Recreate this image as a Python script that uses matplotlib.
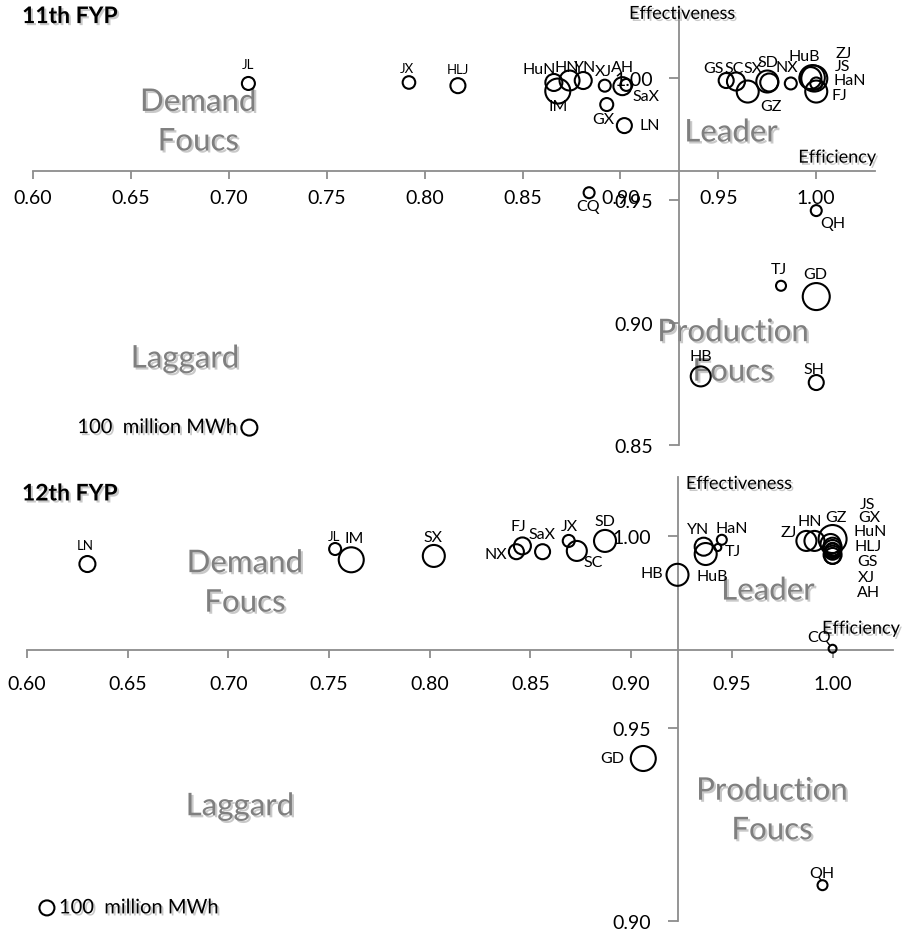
import numpy as np
import matplotlib
matplotlib.use("Agg")
import matplotlib.pyplot as plt
import matplotlib.patheffects as pe

plt.rcParams['font.family'] = ['Lato', 'DejaVu Sans']

# ---- 11th FYP: efficiency (x), effectiveness (y), consumption (100 million MWh) ----
prov_11 = ['JL', 'JX', 'HLJ', 'HuN', 'IM', 'HN', 'YN', 'XJ', 'AH', 'SaX', 'GX', 'LN',
           'GS', 'SC', 'SX', 'SD', 'GZ', 'NX', 'HuB', 'ZJ', 'JS', 'HaN', 'FJ',
           'CQ', 'QH', 'TJ', 'GD', 'HB', 'SH']
effic_11 = [0.710, 0.792, 0.817, 0.866, 0.868, 0.874, 0.881, 0.892, 0.901, 0.903, 0.893, 0.902,
            0.954, 0.959, 0.965, 0.975, 0.976, 0.987, 0.997, 0.998, 0.999, 1.000, 1.000,
            0.884, 1.000, 0.982, 1.000, 0.941, 1.000]
effect_11 = [0.9976, 0.9980, 0.9967, 0.9980, 0.9945, 0.9988, 0.9988, 0.9967, 0.9965, 0.9970, 0.9890, 0.9804,
             0.9988, 0.9984, 0.9943, 0.9984, 0.9980, 0.9976, 0.9998, 1.0000, 0.9996, 0.9976, 0.9943,
             0.9530, 0.9457, 0.9150, 0.9106, 0.8780, 0.8755]
size_11 = [0.66, 0.62, 0.88, 1.13, 2.44, 1.56, 1.13, 0.56, 1.27, 0.56, 0.66, 0.88,
           0.88, 1.27, 1.89, 1.89, 1.27, 0.56, 1.89, 2.44, 2.64, 0.56, 1.89,
           0.47, 0.47, 0.39, 2.85, 1.56, 0.88]

# ---- 12th FYP ----
prov_12 = ['LN', 'JL', 'IM', 'SX', 'NX', 'FJ', 'SaX', 'JX', 'SC', 'SD', 'HB', 'YN', 'HuB',
           'TJ', 'HaN', 'ZJ', 'HN', 'GZ', 'JS', 'GX', 'HuN', 'HLJ', 'GS', 'XJ', 'AH',
           'CQ', 'GD', 'QH']
effic_12 = [0.630, 0.753, 0.761, 0.802, 0.843, 0.846, 0.856, 0.869, 0.873, 0.887, 0.923, 0.936, 0.937,
            0.943, 0.945, 0.987, 0.991, 1.000, 0.999, 1.000, 1.000, 1.000, 1.000, 1.000, 1.000,
            1.000, 0.906, 0.995]
effect_12 = [0.9927, 0.9966, 0.9938, 0.9948, 0.9959, 0.9974, 0.9959, 0.9987, 0.9961, 0.9987, 0.9899, 0.9972, 0.9953,
             0.9970, 0.9990, 0.9987, 0.9987, 0.9992, 0.9979, 0.9972, 0.9966, 0.9959, 0.9951, 0.9964, 0.9948,
             0.9707, 0.9422, 0.9093]
size_12 = [1.14, 0.64, 2.78, 2.15, 1.00, 1.28, 1.00, 0.64, 1.78, 2.15, 2.15, 1.44, 2.15,
           0.22, 0.44, 1.78, 1.78, 3.48, 1.78, 1.44, 1.44, 1.14, 1.44, 0.87, 1.14,
           0.28, 2.78, 0.44]

# label offsets in pixels (dx right, dy up)
off_11 = [(0, 19), (-2, 14), (0, 17), (-15, 13), (0, -15), (-3, 14), (2, 14), (-1, 15), (0, 19), (20, -11), (-3, -14), (25, 1),
          (-13, 13), (-2, 14), (5, 24), (1, 20), (2, -24), (-4, 16), (-6, 22), (31, 25), (28, 13), (33, 3), (23, -3),
          (-1, -13), (17, -12), (-2, 17), (-1, 23), (0, 20), (-2, 14)]
off_12 = [(-2, 19), (-1, 13), (3, 22), (-1, 19), (-21, -2), (-4, 20), (-1, 18), (1, 15), (16, -11), (0, 20), (-26, 2), (-6, 18), (7, -22),
          (15, -4), (10, 12), (-18, 9), (-5, 20), (3, 22), (37, 40), (37, 30), (38, 18), (36, 6), (35, -6), (34, -27), (36, -36),
          (-14, 12), (-31, 0), (-1, 12)]
small_11 = ['JL', 'JX', 'HLJ']
small_12 = ['LN', 'JL']

fig = plt.figure(figsize=(9.04, 9.37), dpi=100)
ax1 = fig.add_axes([33 / 904, 491 / 937, 842 / 904, 436 / 937])
ax2 = fig.add_axes([27 / 904, 15 / 937, 866 / 904, 444 / 937])

shadow = [pe.withSimplePatchShadow(offset=(1.5, -1.5), shadow_rgbFace='0.4', alpha=0.35)]
axis_grey = '#8c8c8c'


def setup(ax, ylim, yticks, xcross, ycross, xpad, ypad):
    ax.set_xlim(0.60, 1.03)
    ax.set_ylim(*ylim)
    ax.patch.set_visible(False)
    for side in ('top', 'right'):
        ax.spines[side].set_visible(False)
    ax.spines['left'].set_position(('data', xcross))
    ax.spines['bottom'].set_position(('data', ycross))
    for side in ('left', 'bottom'):
        ax.spines[side].set_color(axis_grey)
        ax.spines[side].set_linewidth(1.3)
    ax.set_xticks([0.60, 0.65, 0.70, 0.75, 0.80, 0.85, 0.90, 0.95, 1.00])
    ax.set_yticks(yticks)
    ax.xaxis.set_major_formatter('{x:.2f}')
    ax.yaxis.set_major_formatter('{x:.2f}')
    ax.tick_params(axis='x', direction='out', length=6, width=1.3, color=axis_grey,
                   labelsize=14, pad=xpad)
    ax.tick_params(axis='y', direction='out', length=7, width=1.3, color=axis_grey,
                   labelsize=14, pad=ypad)


def bubbles(ax, names, xs, ys, sizes, offs, small, r_unit):
    s = [(2 * 0.72 * r_unit * np.sqrt(v)) ** 2 for v in sizes]
    ax.scatter(xs, ys, s=s, facecolors='none', edgecolors='black', linewidths=1.5, zorder=3)
    for n, x, y, (dx, dy) in zip(names, xs, ys, offs):
        ax.annotate(n, (x, y), xytext=(dx, dy), textcoords='offset pixels',
                    ha='center', va='center', fontsize=9.5 if n in small else 11.5, zorder=4)


def quadrant(ax, x, y, text):
    ax.text(x, y, text, ha='center', va='center', fontsize=22.5, color='#7f7f7f',
            linespacing=1.5, path_effects=shadow, zorder=2)


# top panel
setup(ax1, (0.85, 1.028), [0.85, 0.90, 0.95, 1.00], 0.93, 0.962, 7, 12)
bubbles(ax1, prov_11, effic_11, effect_11, size_11, off_11, small_11, 8)
quadrant(ax1, 0.6844, 0.9820, 'Demand\nFoucs')
quadrant(ax1, 0.9565, 0.9776, 'Leader')
quadrant(ax1, 0.6777, 0.8853, 'Laggard')
quadrant(ax1, 0.9575, 0.8880, 'Production\nFoucs')
ax1.text(0.9315, 1.026, 'Effectiveness', ha='center', va='center', fontsize=13, path_effects=shadow)
ax1.text(1.0107, 0.9673, 'Efficiency', ha='center', va='center', fontsize=13, path_effects=shadow)
ax1.text(0.5944, 1.0249, '11th FYP', ha='left', va='center', fontsize=16.5, fontweight='bold',
         path_effects=shadow)
ax1.scatter([0.7105], [0.8571], s=(2 * 0.72 * 8) ** 2, facecolors='none', edgecolors='black', linewidths=1.5)
ax1.annotate('100  million MWh', (0.7105, 0.8571), xytext=(-12, 0), textcoords='offset pixels',
             ha='right', va='center', fontsize=14.5, path_effects=shadow)

# bottom panel
setup(ax2, (0.90, 1.0153), [0.90, 0.95, 1.00], 0.923, 0.9705, 12, 12)
bubbles(ax2, prov_12, effic_12, effect_12, size_12, off_12, small_12, 7.5)
quadrant(ax2, 0.7082, 0.9878, 'Demand\nFoucs')
quadrant(ax2, 0.9679, 0.9858, 'Leader')
quadrant(ax2, 0.7058, 0.9298, 'Laggard')
quadrant(ax2, 0.9699, 0.9287, 'Production\nFoucs')
ax2.text(0.9535, 1.0135, 'Effectiveness', ha='center', va='center', fontsize=13, path_effects=shadow)
ax2.text(1.0141, 0.9759, 'Efficiency', ha='center', va='center', fontsize=13, path_effects=shadow)
ax2.text(0.5975, 1.0109, '12th FYP', ha='left', va='center', fontsize=16.5, fontweight='bold',
         path_effects=shadow)
ax2.scatter([0.6099], [0.9034], s=(2 * 0.72 * 7.5) ** 2, facecolors='none', edgecolors='black', linewidths=1.5)
ax2.annotate('100  million MWh', (0.6099, 0.9034), xytext=(12, 0), textcoords='offset pixels',
             ha='left', va='center', fontsize=14.5, path_effects=shadow)

fig.savefig('out.png', dpi=100)
